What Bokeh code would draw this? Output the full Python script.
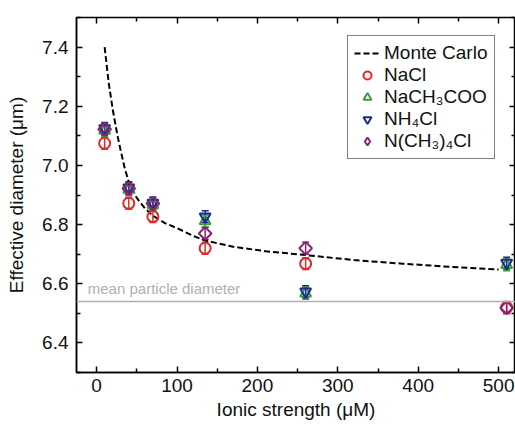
import math
from bokeh.plotting import figure
from bokeh.models import (ColumnDataSource, Range1d, LinearAxis, Legend, LegendItem,
                          Whisker, TeeHead, Span, Label, FixedTicker, PrintfTickFormatter)
from bokeh.embed import file_html
from bokeh.resources import INLINE

# ---- data ----
ionic = [10, 40, 70, 135, 260, 510]
nacl = [7.075, 6.872, 6.827, 6.72, 6.668, 6.52]
nach3coo = [7.118, 6.918, 6.866, 6.812, 6.568, 6.664]
nh4cl = [7.125, 6.925, 6.873, 6.827, 6.573, 6.670]
nch34cl = [7.122, 6.922, 6.871, 6.770, 6.720, 6.519]
err = [0.02, 0.02, 0.02, 0.02, 0.02, 0.02]

mc_x = [10, 15, 20, 26, 30, 35, 40, 50, 60, 70, 85, 100, 120, 135, 170, 210, 260, 320, 380, 440, 500]
mc_y = [7.40, 7.28, 7.19, 7.10, 7.05, 6.99, 6.945, 6.89, 6.855, 6.83, 6.805, 6.788, 6.762,
        6.746, 6.725, 6.71, 6.697, 6.68, 6.668, 6.657, 6.648]

mean_diam = 6.54

FONT = "Liberation Sans"

p = figure(width=515, height=425, output_backend="svg", toolbar_location=None,
           x_range=Range1d(-25, 521), y_range=Range1d(6.3, 7.5),
           min_border_left=76, min_border_right=0, min_border_top=17, min_border_bottom=53,
           background_fill_color="white", border_fill_color="white")
p.grid.visible = False
p.outline_line_color = "black"
p.outline_line_width = 1.5

def style_axis(ax, labels=True):
    ax.axis_line_color = "black"
    ax.axis_line_width = 1.5
    ax.major_tick_in = 6
    ax.major_tick_out = 0
    ax.minor_tick_in = 4
    ax.minor_tick_out = 0
    ax.major_tick_line_width = 1.5
    ax.minor_tick_line_width = 1.5
    ax.major_label_text_font = FONT
    ax.major_label_text_font_size = "19px" if labels else "1px"
    ax.major_label_text_color = "#111111" if labels else None
    ax.axis_label_text_font = FONT
    ax.axis_label_text_font_size = "19px"
    ax.axis_label_text_font_style = "normal"
    ax.axis_label_text_color = "#111111"
    if not labels:
        ax.major_label_standoff = 0

xt = FixedTicker(ticks=[0, 100, 200, 300, 400, 500], minor_ticks=[50, 150, 250, 350, 450])
yt = FixedTicker(ticks=[6.4, 6.6, 6.8, 7.0, 7.2, 7.4], minor_ticks=[6.3, 6.5, 6.7, 6.9, 7.1, 7.3, 7.5])

p.xaxis.ticker = xt
p.yaxis.ticker = yt
p.yaxis.formatter = PrintfTickFormatter(format="%.1f")
style_axis(p.xaxis[0])
style_axis(p.yaxis[0])
p.xaxis.axis_label = "Ionic strength (\u03bcM)"
p.yaxis.axis_label = "Effective diameter (\u03bcm)"
p.xaxis.major_label_standoff = 6
p.yaxis.major_label_standoff = 8
p.xaxis.axis_label_standoff = 4
p.yaxis.axis_label_standoff = 12

top = LinearAxis(ticker=xt)
style_axis(top, labels=False)
top.axis_line_color = None
p.add_layout(top, "above")
right = LinearAxis(ticker=yt)
style_axis(right, labels=False)
right.axis_line_color = None
p.add_layout(right, "right")

# mean particle diameter
p.add_layout(Span(location=mean_diam, dimension="width", line_color="#b0b0b0", line_width=1.5))
p.add_layout(Label(x=-11, y=mean_diam, text="mean particle diameter", y_offset=5,
                   text_font=FONT, text_font_size="15px", text_color="#b0b0b0"))

# Monte Carlo
mc = p.line(mc_x, mc_y, line_color="black", line_width=2, line_dash="6 3")

RED = "#e02a2a"
GREEN = "#3c9c3c"
BLUE = "#1a2a8a"
PURPLE = "#8a2272"

series = [
    ("NaCl", nacl, RED, "circle"),
    ("NaCH\u2083COO", nach3coo, GREEN, "triangle"),
    ("NH\u2084Cl", nh4cl, BLUE, "inverted_triangle"),
    ("N(CH\u2083)\u2084Cl", nch34cl, PURPLE, "diamond"),
]

legend_items = [LegendItem(label="Monte Carlo", renderers=[mc])]
for name, vals, col, mk in series:
    src = ColumnDataSource(dict(x=ionic, y=vals,
                                lo=[v - e for v, e in zip(vals, err)],
                                hi=[v + e for v, e in zip(vals, err)]))
    w = Whisker(base="x", lower="lo", upper="hi", source=src, dimension="height",
                line_color=col, line_width=1.5,
                lower_head=TeeHead(size=7, line_color=col, line_width=1.5),
                upper_head=TeeHead(size=7, line_color=col, line_width=1.5))
    p.add_layout(w)
    is_diamond = mk == "diamond"
    if is_diamond:
        # a square turned by 45 degrees gives the wide diamond of the reference
        p.scatter("x", "y", source=src, marker="square", size=9, angle=math.pi / 4,
                  fill_color=None, line_color=col, line_width=2)
    else:
        p.scatter("x", "y", source=src, marker=mk, size=11, fill_color=None,
                  line_color=col, line_width=2)
    # legend-only glyph (smaller marker), its single point lies outside the visible range
    lsize = 11 if is_diamond else 8
    lr = p.scatter(x=[-1000], y=[0], marker=mk, size=lsize, fill_color=None,
                   line_color=col, line_width=2)
    legend_items.append(LegendItem(label=name, renderers=[lr], index=0))

legend = Legend(items=legend_items, location=(271, 213))
legend.label_text_font = FONT
legend.label_text_font_size = "19px"
legend.label_text_color = "#111111"
legend.label_height = 20
legend.glyph_height = 20
legend.glyph_width = 26
legend.label_standoff = 4
legend.spacing = 0
legend.padding = 6
legend.margin = 0
legend.border_line_color = "black"
legend.border_line_width = 1.5
legend.background_fill_alpha = 1
p.add_layout(legend, "center")

open("out.html", "w").write(file_html(p, INLINE))
